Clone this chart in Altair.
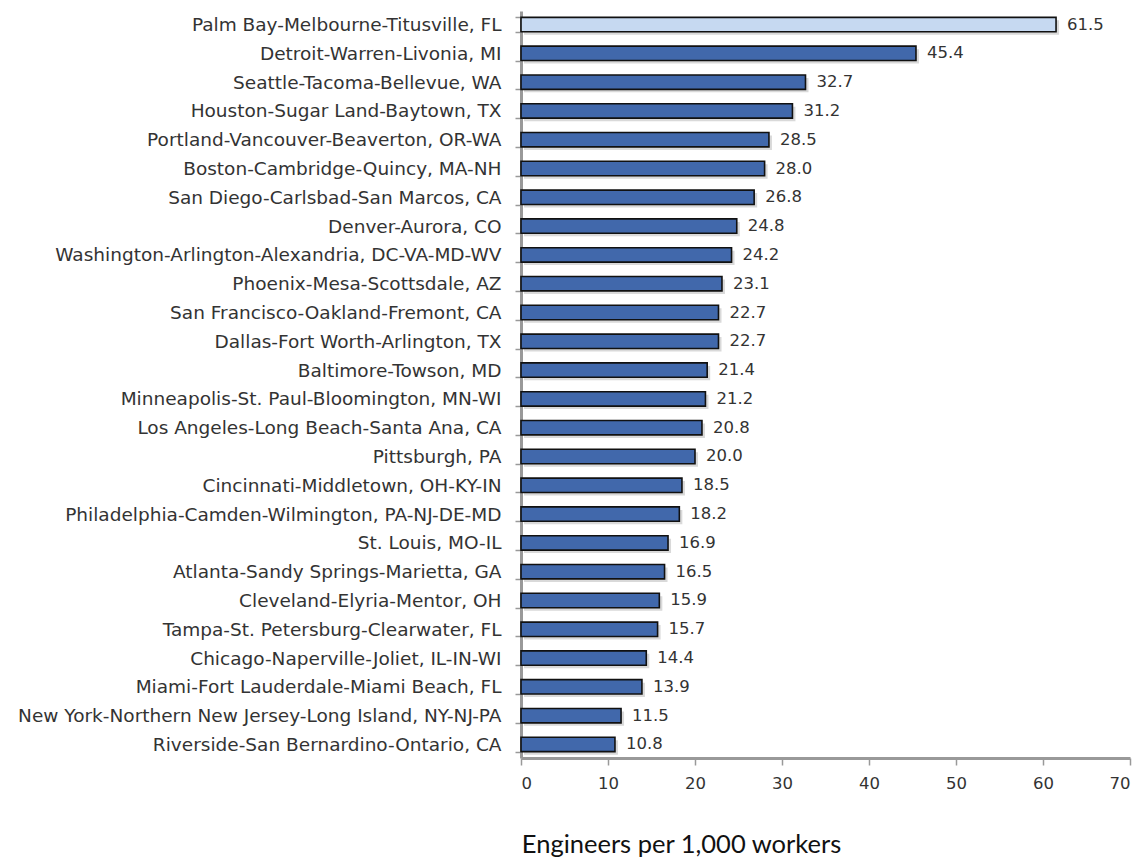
import altair as alt
import pandas as pd

metros = [
    "Palm Bay-Melbourne-Titusville, FL",
    "Detroit-Warren-Livonia, MI",
    "Seattle-Tacoma-Bellevue, WA",
    "Houston-Sugar Land-Baytown, TX",
    "Portland-Vancouver-Beaverton, OR-WA",
    "Boston-Cambridge-Quincy, MA-NH",
    "San Diego-Carlsbad-San Marcos, CA",
    "Denver-Aurora, CO",
    "Washington-Arlington-Alexandria, DC-VA-MD-WV",
    "Phoenix-Mesa-Scottsdale, AZ",
    "San Francisco-Oakland-Fremont, CA",
    "Dallas-Fort Worth-Arlington, TX",
    "Baltimore-Towson, MD",
    "Minneapolis-St. Paul-Bloomington, MN-WI",
    "Los Angeles-Long Beach-Santa Ana, CA",
    "Pittsburgh, PA",
    "Cincinnati-Middletown, OH-KY-IN",
    "Philadelphia-Camden-Wilmington, PA-NJ-DE-MD",
    "St. Louis, MO-IL",
    "Atlanta-Sandy Springs-Marietta, GA",
    "Cleveland-Elyria-Mentor, OH",
    "Tampa-St. Petersburg-Clearwater, FL",
    "Chicago-Naperville-Joliet, IL-IN-WI",
    "Miami-Fort Lauderdale-Miami Beach, FL",
    "New York-Northern New Jersey-Long Island, NY-NJ-PA",
    "Riverside-San Bernardino-Ontario, CA",
]
values = [61.5, 45.4, 32.7, 31.2, 28.5, 28.0, 26.8, 24.8, 24.2, 23.1, 22.7, 22.7,
          21.4, 21.2, 20.8, 20.0, 18.5, 18.2, 16.9, 16.5, 15.9, 15.7, 14.4, 13.9,
          11.5, 10.8]
highlight = ["yes"] + ["no"] * (len(metros) - 1)
x_ticks = [0, 10, 20, 30, 40, 50, 60, 70]

df = pd.DataFrame({"metro": metros, "value": values, "hl": highlight})
df["label"] = df["value"].map(lambda v: f"{v:.1f}")

FONT = "DejaVu Sans"

y_enc = alt.Y("metro:N", sort=metros, title=None,
              scale=alt.Scale(paddingInner=0.5, paddingOuter=0.22),
              axis=alt.Axis(labelFont=FONT, labelFontSize=18.5, labelColor="#333",
                            domainColor="#999", domainWidth=3,
                            tickColor="#999", tickSize=6, tickWidth=1.5,
                            tickBand="extent", labelPadding=14, labelLimit=700))
x_enc = alt.X("value:Q", title="Engineers per 1,000 workers",
              scale=alt.Scale(domain=[0, 70]),
              axis=alt.Axis(values=x_ticks, grid=False,
                            labelFont=FONT, labelFontSize=16.5, labelColor="#333",
                            labelPadding=10,
                            domainColor="#999", domainWidth=3,
                            tickColor="#999", tickSize=7, tickWidth=1.5,
                            titleFont="Lato", titleFontSize=25.5, titleFontWeight="normal",
                            titleColor="#111", titleX=160, titleY=94,
                            titleAlign="center", titleAnchor="start",
                            titleBaseline="alphabetic"))

base = alt.Chart(df)

shadow = base.mark_bar(color="#aaaaaa", opacity=0.45, xOffset=3, yOffset=3).encode(
    x=x_enc, y=y_enc)

bars = base.mark_bar(stroke="#111111", strokeWidth=1.6).encode(
    x=x_enc, y=y_enc,
    color=alt.Color("hl:N", scale=alt.Scale(domain=["yes", "no"],
                                             range=["#c6d9f1", "#4168ab"]),
                    legend=None))

text = base.mark_text(align="left", baseline="middle", dx=11, font=FONT,
                      fontSize=16.5, color="#333").encode(
    x=x_enc, y=y_enc, text="label:N")

chart = alt.layer(shadow, bars, text).properties(
    width=609, height=747,
    autosize=alt.AutoSizeParams(type="none"),
    padding={"left": 513, "top": 3, "right": 10, "bottom": 104},
    background="white",
).configure_view(stroke=None)

chart.save("out.html", embed_options={"renderer": "svg", "actions": False})
